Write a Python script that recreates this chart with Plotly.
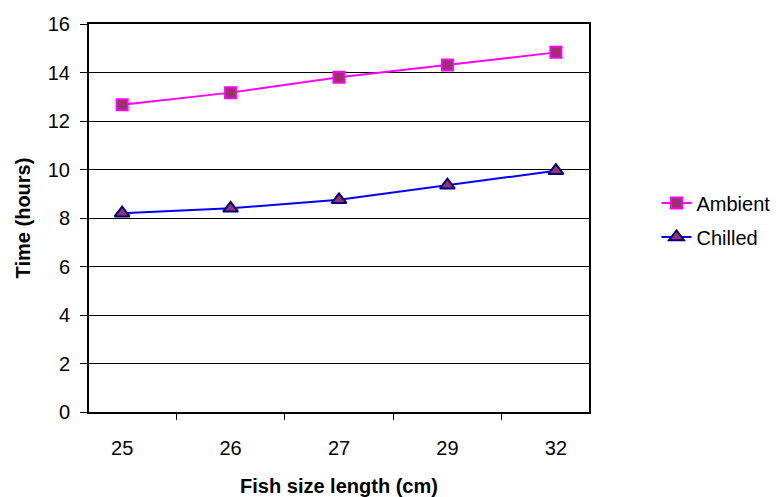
import plotly.graph_objects as go

categories = ["25", "26", "27", "29", "32"]
ambient = [12.67, 13.17, 13.8, 14.31, 14.83]
chilled = [8.2, 8.4, 8.75, 9.35, 9.95]
y_ticks = [0, 2, 4, 6, 8, 10, 12, 14, 16]

FONT = "Liberation Sans, Arial, sans-serif"

fig = go.Figure()
fig.add_trace(go.Scatter(
    x=categories, y=ambient, mode="lines+markers", name="Ambient",
    legendgroup="a",
    line=dict(color="#FF00FF", width=2),
    marker=dict(symbol="square", size=11, color="#993366",
                line=dict(color="#FF00FF", width=2)),
))
fig.add_trace(go.Scatter(
    x=categories, y=chilled, mode="lines+markers", name="Chilled",
    legendgroup="c",
    line=dict(color="#0000FF", width=2),
    marker=dict(symbol="triangle-up", size=13, color="#993366",
                line=dict(color="#000080", width=2)),
))

fig.update_layout(
    width=776, height=497,
    margin=dict(l=89, r=187, t=24, b=85, autoexpand=False),
    paper_bgcolor="white", plot_bgcolor="white",
    font=dict(family=FONT, size=20, color="black"),
    showlegend=True,
    legend=dict(x=1.135, y=0.495, xanchor="left", yanchor="middle",
                traceorder="grouped", tracegroupgap=5,
                font=dict(family=FONT, size=20, color="black"),
                bgcolor="rgba(0,0,0,0)"),
    xaxis=dict(
        type="category", tickson="boundaries",
        ticks="outside", ticklen=6, tickcolor="black", tickwidth=1,
        showline=True, linecolor="black", linewidth=2, mirror=True,
        showgrid=False, ticklabelstandoff=17,
        tickfont=dict(family=FONT, size=20),
        title=dict(text="<b>Fish size length (cm)</b>", font=dict(family=FONT, size=20), standoff=22),
    ),
    yaxis=dict(
        range=[0, 16], tickvals=y_ticks,
        ticks="outside", ticklen=7, tickcolor="black", tickwidth=1,
        showline=True, linecolor="black", linewidth=2, mirror=True,
        showgrid=True, gridcolor="black", gridwidth=1,
        zeroline=False, ticklabelstandoff=6,
        tickfont=dict(family=FONT, size=20),
        title=dict(text="<b>Time (hours)</b>", font=dict(family=FONT, size=20), standoff=12),
    ),
)

fig.write_html("out.html")
